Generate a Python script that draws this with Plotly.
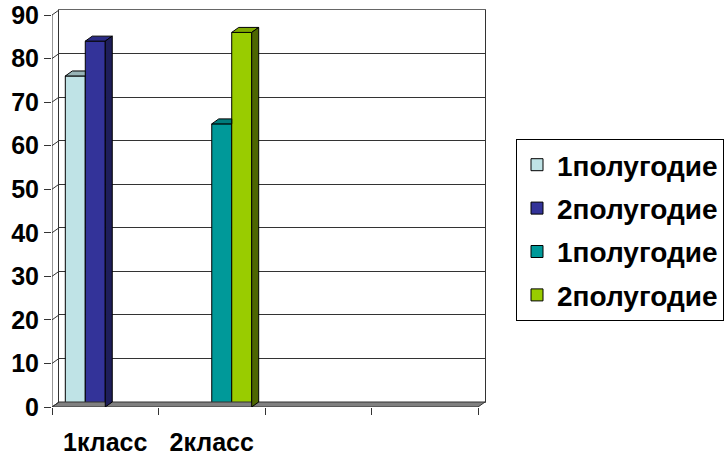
import plotly.graph_objects as go

# ---- data ----
categories = ["1класс", "2класс", "", ""]
series_names = ["1полугодие", "2полугодие", "1полугодие", "2полугодие"]
s1_values = [76, None, None, None]
s2_values = [84, None, None, None]
s3_values = [None, 65, None, None]
s4_values = [None, 86, None, None]
y_ticks = [0, 10, 20, 30, 40, 50, 60, 70, 80, 90]

series_values = [s1_values, s2_values, s3_values, s4_values]
front_colors = ["#BFE3E6", "#333399", "#009999", "#99CC00"]
top_colors = ["#98B4B7", "#2B2B85", "#007C7C", "#80AA00"]
side_colors = ["#7A9597", "#1E1E5A", "#005A5A", "#4D6600"]

W, H = 726, 456
FONT = "Liberation Sans, Arial, sans-serif"

# geometry (px) -> depth in data units
slot_px = 106.5
px_per_unit_y = 4.356
DX = 7 / slot_px
DY = 5 / px_per_unit_y
BAR_W = 0.1875
offsets = [-0.28125, -0.09375, 0.09375, 0.28125]
ncat = len(categories)
x_idx = list(range(ncat))

fig = go.Figure()

# back wall subplot (x, y)
fig.add_trace(go.Scatter(x=[None], y=[None], xaxis="x", yaxis="y",
                         showlegend=False, hoverinfo="skip"))

# floor
fig.add_trace(go.Scatter(
    x=[-0.5, ncat - 0.5, ncat - 0.5 + DX, -0.5 + DX, -0.5],
    y=[0, 0, DY, DY, 0], xaxis="x2", yaxis="y2", mode="lines",
    fill="toself", fillcolor="#808080", line=dict(color="#333333", width=1),
    showlegend=False, hoverinfo="skip"))

# front axis line + depth diagonals at ticks
ax_x, ax_y = [-0.5, -0.5, None], [0, y_ticks[-1], None]
for t in y_ticks:
    ax_x += [-0.5, -0.5 + DX, None]
    ax_y += [t, t + DY, None]
fig.add_trace(go.Scatter(x=ax_x, y=ax_y, xaxis="x2", yaxis="y2", mode="lines",
                         line=dict(color="#333333", width=1),
                         showlegend=False, hoverinfo="skip"))

# bars (front faces)
for i, vals in enumerate(series_values):
    fig.add_trace(go.Bar(
        x=x_idx, y=vals, name=series_names[i], xaxis="x2", yaxis="y2",
        offset=offsets[i] - BAR_W / 2, width=BAR_W,
        marker=dict(color=front_colors[i], line=dict(color="#000000", width=1)),
        legendgroup="g%d" % i, hoverinfo="skip"))

# 3D top and side faces
for i, vals in enumerate(series_values):
    tx, ty, sx, sy = [], [], [], []
    for c, v in enumerate(vals):
        if v is None:
            continue
        xl = c + offsets[i] - BAR_W / 2
        xr = c + offsets[i] + BAR_W / 2
        nv = 0
        if i + 1 < len(series_values) and series_values[i + 1][c] is not None:
            nv = series_values[i + 1][c]
        if nv >= v:
            tx += [xl, xr, xr, xl + DX, xl, None]
            ty += [v, v, v + DY, v + DY, v, None]
        else:
            tx += [xl, xr, xr + DX, xl + DX, xl, None]
            ty += [v, v, v + DY, v + DY, v, None]
            sx += [xr, xr + DX, xr + DX, xr, xr, None]
            sy += [0, DY, v + DY, v, 0, None]
    if tx:
        fig.add_trace(go.Scatter(x=tx, y=ty, xaxis="x2", yaxis="y2", mode="lines",
                                 fill="toself", fillcolor=top_colors[i],
                                 line=dict(color="#000000", width=1),
                                 showlegend=False, hoverinfo="skip"))
    if sx:
        fig.add_trace(go.Scatter(x=sx, y=sy, xaxis="x2", yaxis="y2", mode="lines",
                                 fill="toself", fillcolor=side_colors[i],
                                 line=dict(color="#000000", width=1),
                                 showlegend=False, hoverinfo="skip"))

# overlay axis for category labels
fig.add_trace(go.Scatter(x=[None], y=[None], xaxis="x3", yaxis="y2",
                         showlegend=False, hoverinfo="skip"))


def px_x(p):
    return p / W


def px_y(p):
    return 1 - p / H


fig.update_layout(
    template="none",
    width=W, height=H,
    margin=dict(l=0, r=0, t=0, b=0, autoexpand=False),
    paper_bgcolor="white", plot_bgcolor="rgba(0,0,0,0)",
    barmode="overlay",
    font=dict(family=FONT, color="#000000"),
    xaxis=dict(domain=[px_x(59), px_x(485)], range=[-0.5, ncat - 0.5],
               showgrid=False, zeroline=False, showticklabels=False, ticks="",
               showline=True, mirror=True, linecolor="#666666", linewidth=1,
               anchor="y", fixedrange=True, automargin=False),
    yaxis=dict(domain=[px_y(402), px_y(10)], range=[0, y_ticks[-1]],
               tickvals=y_ticks, showgrid=True, gridcolor="#333333", gridwidth=1,
               zeroline=False, showticklabels=False, ticks="",
               showline=True, mirror=True, linecolor="#333333", linewidth=1,
               anchor="x", fixedrange=True, automargin=False),
    xaxis2=dict(domain=[px_x(52), px_x(485)], range=[-0.5, ncat - 0.5 + DX],
                tickvals=[c - 0.5 for c in range(ncat + 1)],
                ticktext=[""] * (ncat + 1), ticks="outside", ticklen=7,
                tickcolor="#333333", showgrid=False, zeroline=False,
                showline=False, anchor="y2", fixedrange=True, automargin=False),
    yaxis2=dict(domain=[px_y(407), px_y(10)], range=[0, y_ticks[-1] + DY],
                tickvals=y_ticks, ticktext=[str(t) for t in y_ticks],
                ticks="outside", ticklen=7, tickcolor="#333333",
                tickfont=dict(size=25, family=FONT, weight="bold"),
                showgrid=False, zeroline=False, showline=False,
                anchor="x2", fixedrange=True, automargin=False),
    xaxis3=dict(overlaying="x2", anchor="y2", range=[-0.5, ncat - 0.5 + DX],
                tickvals=x_idx[:2], ticktext=categories[:2], ticks="",
                ticklabelstandoff=18,
                tickfont=dict(size=25, family=FONT, weight="bold"),
                showgrid=False, zeroline=False, showline=False, fixedrange=True,
                automargin=False),
    legend=dict(x=px_x(516), y=px_y(139), xanchor="left", yanchor="top",
                bordercolor="#000000", borderwidth=1, bgcolor="white",
                font=dict(size=28, family=FONT, weight="bold"),
                traceorder="grouped", tracegroupgap=4),
    showlegend=True,
)

fig.write_html("out.html",
               config={"displayModeBar": False},
               post_script="document.body.style.margin='0';")
